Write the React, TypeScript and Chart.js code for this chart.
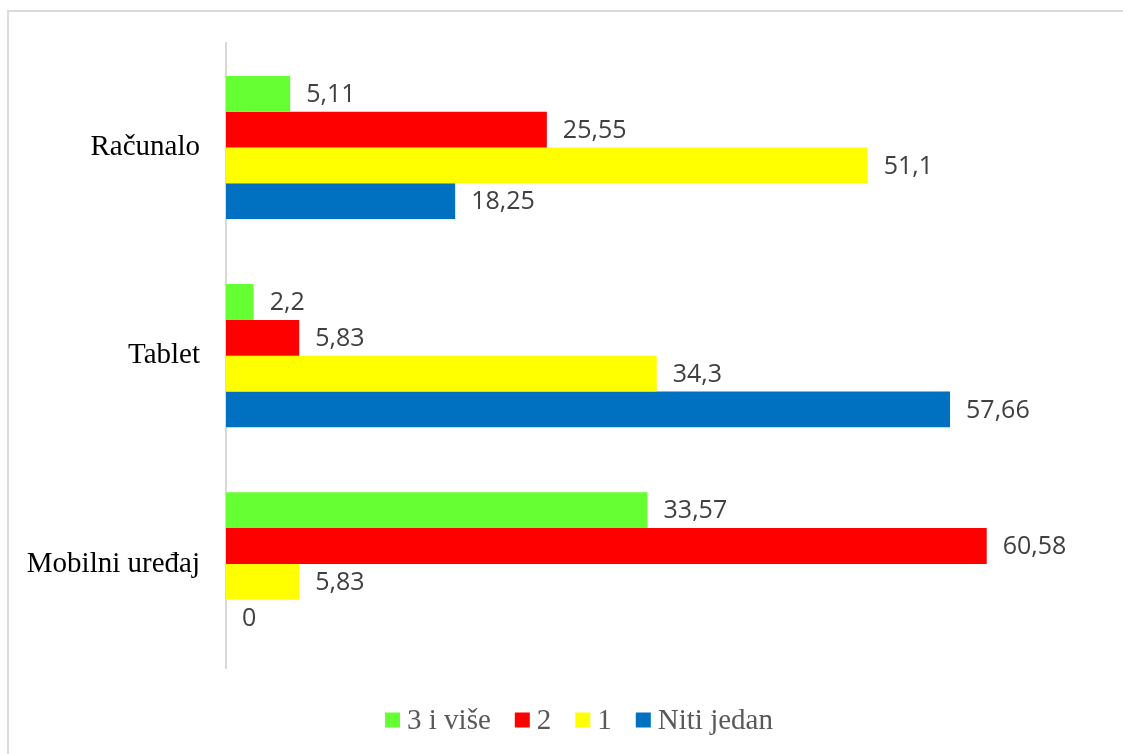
import React, { useEffect, useRef } from "react";
import { Chart, registerables } from "chart.js";

Chart.register(...registerables);

const categories = ["Računalo", "Tablet", "Mobilni uređaj"];
const seriesNames = ["3 i više", "2", "1", "Niti jedan"];
const seriesColors = ["#66FF33", "#FF0000", "#FFFF00", "#0070C0"];
const valsTriPlus = [5.11, 2.2, 33.57];
const valsTwo = [25.55, 5.83, 60.58];
const valsOne = [51.1, 34.3, 5.83];
const valsNone = [18.25, 57.66, 0];
const xMax = 70;

const fmt = (v: number) => String(v).replace(".", ",");

const dataLabelPlugin = {
  id: "dataLabels",
  afterDatasetsDraw(chart: any) {
    const ctx = chart.ctx;
    ctx.save();
    ctx.font = "25px 'Open Sans'";
    ctx.fillStyle = "#404040";
    ctx.textAlign = "left";
    ctx.textBaseline = "middle";
    chart.data.datasets.forEach((ds: any, di: number) => {
      const meta = chart.getDatasetMeta(di);
      meta.data.forEach((bar: any, i: number) => {
        const v = ds.data[i];
        ctx.fillText(fmt(v), bar.x + 16, bar.y + 1);
      });
    });
    ctx.restore();
  },
};

const legendPlugin = {
  id: "customLegend",
  afterDraw(chart: any) {
    const ctx = chart.ctx;
    ctx.save();
    ctx.font = "29px 'Liberation Serif'";
    ctx.textBaseline = "middle";
    const box = 15;
    const gapBoxText = 7;
    const gapItems = 24;
    const items = chart.data.datasets.map((ds: any) => ({
      text: ds.label,
      color: ds.backgroundColor,
      w: ctx.measureText(ds.label).width,
    }));
    const total =
      items.reduce((s: number, it: any) => s + box + gapBoxText + it.w, 0) +
      gapItems * (items.length - 1);
    let x = 579 - total / 2;
    const y = 721;
    items.forEach((it: any) => {
      ctx.fillStyle = it.color;
      ctx.fillRect(x, y - box / 2 - 1, box, box);
      x += box + gapBoxText;
      ctx.fillStyle = "#595959";
      ctx.fillText(it.text, x, y);
      x += it.w + gapItems;
    });
    ctx.restore();
  },
};

export default function App() {
  const ref = useRef<HTMLCanvasElement>(null);
  useEffect(() => {
    if (!ref.current) return;
    const values = [valsTriPlus, valsTwo, valsOne, valsNone];
    const chart = new Chart(ref.current, {
      type: "bar",
      data: {
        labels: categories,
        datasets: seriesNames.map((name, i) => ({
          label: name,
          data: values[i],
          backgroundColor: seriesColors[i],
          borderWidth: 0,
          categoryPercentage: 0.688,
          barPercentage: 1,
        })),
      },
      options: {
        indexAxis: "y",
        animation: false,
        responsive: false,
        maintainAspectRatio: false,
        layout: { padding: { left: 0, right: 18, top: 37, bottom: 86 } },
        plugins: {
          legend: { display: false },
          tooltip: { enabled: false },
        },
        scales: {
          x: {
            display: false,
            min: 0,
            max: xMax,
          },
          y: {
            grid: { display: false, drawTicks: false },
            border: { display: true, color: "#D9D9D9", width: 2 },
            ticks: {
              font: { family: "'Liberation Serif'", size: 29 },
              color: "#000000",
              padding: 26,
            },
            afterFit: (scale: any) => {
              scale.width = 226;
            },
          },
        },
      },
      plugins: [dataLabelPlugin, legendPlugin],
    });
    return () => chart.destroy();
  }, []);
  return (
    <div
      style={{
        position: "fixed",
        left: 0,
        top: 0,
        width: 1123,
        height: 754,
        overflow: "hidden",
        background: "#fff",
      }}
    >
      <div
        style={{
          position: "absolute",
          left: 7,
          top: 10,
          width: 1200,
          height: 800,
          border: "2px solid #DCDCDC",
        }}
      />
      <canvas
        ref={ref}
        width={1123}
        height={754}
        style={{ position: "absolute", left: 0, top: 0 }}
      />
    </div>
  );
}
